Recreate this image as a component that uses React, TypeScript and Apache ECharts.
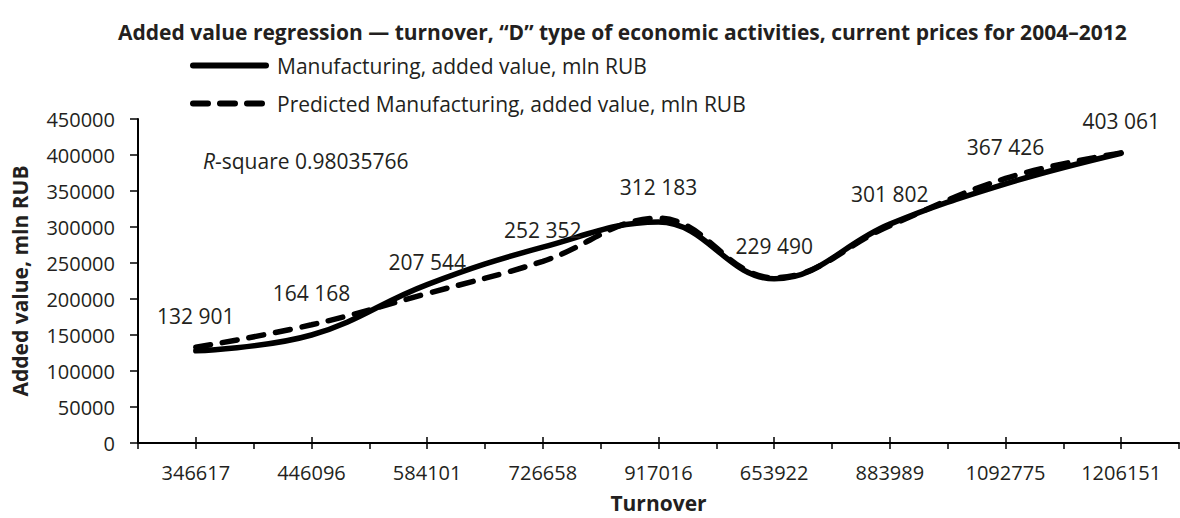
import React, { useEffect, useRef } from "react";
import * as echarts from "echarts";

const titleText =
  "Added value regression \u2014 turnover, \u201cD\u201d type of economic activities, current prices for 2004\u20132012";
const turnover = ["346617", "446096", "584101", "726658", "917016", "653922", "883989", "1092775", "1206151"];
const actualValues = [128000, 150000, 220000, 272000, 307000, 228000, 304000, 360000, 402500];
const predictedValues = [132901, 164168, 207544, 252352, 312183, 229490, 301802, 367426, 403061];
const seriesNames = ["Manufacturing, added value, mln RUB", "Predicted Manufacturing, added value, mln RUB"];
const rSquare = "0.98035766";

const TEXT = "#231f20";
const FONT = "'Open Sans', 'Noto Sans', sans-serif";

function fmt(v: number): string {
  return String(Math.round(v)).replace(/\B(?=(\d{3})+(?!\d))/g, " ");
}

export default function App() {
  const ref = useRef<HTMLDivElement>(null);
  useEffect(() => {
    document.body.style.margin = "0";
    const chart = echarts.init(ref.current!, null, { renderer: "svg" });
    chart.setOption({
      animation: false,
      textStyle: { fontFamily: FONT, color: TEXT },
      title: {
        text: titleText,
        left: 118,
        top: 21,
        padding: 0,
        textStyle: { fontFamily: FONT, fontSize: 21, fontWeight: "bold", color: TEXT },
      },
      legend: {
        orient: "vertical",
        left: 190,
        top: 55,
        padding: 0,
        itemGap: 17,
        itemWidth: 73,
        itemHeight: 22,
        data: seriesNames,
        lineStyle: { width: 6 },
        itemStyle: { color: "rgba(0,0,0,0)", borderWidth: 0 },
        textStyle: { fontFamily: FONT, fontSize: 21, color: TEXT, padding: [0, 0, 0, 6] },
      },
      graphic: [
        {
          type: "text",
          left: 203,
          top: 150,
          style: {
            text: "{i|R}-square " + rSquare,
            fontFamily: FONT,
            fontSize: 21,
            fill: TEXT,
            rich: { i: { fontStyle: "italic", fontFamily: FONT, fontSize: 21, fill: TEXT } },
          },
        },
      ],
      grid: { left: 138, right: 1, top: 119, bottom: 72, containLabel: false },
      xAxis: [
        {
          type: "category",
          data: turnover,
          boundaryGap: true,
          axisLine: { show: true, lineStyle: { color: "#000", width: 2 } },
          axisTick: { show: true, interval: 0, alignWithLabel: false, length: 6, lineStyle: { color: "#000", width: 1.5 } },
          axisLabel: { interval: 0, fontSize: 20, margin: 19, color: TEXT, fontFamily: FONT },
          name: "Turnover",
          nameLocation: "middle",
          nameGap: 49,
          nameTextStyle: { fontFamily: FONT, fontSize: 21, fontWeight: "bold", color: TEXT },
          splitLine: { show: false },
        },
        {
          type: "category",
          data: turnover,
          position: "bottom",
          offset: 6,
          boundaryGap: true,
          axisLine: { show: false },
          axisTick: { show: true, interval: 0, alignWithLabel: true, inside: true, length: 12, lineStyle: { color: "#000", width: 1.5 } },
          axisLabel: { show: false },
          splitLine: { show: false },
        },
      ],
      yAxis: {
        type: "value",
        min: 0,
        max: 450000,
        interval: 50000,
        axisLine: { show: true, lineStyle: { color: "#000", width: 2 } },
        axisTick: { show: true, length: 8, lineStyle: { color: "#000", width: 1.5 } },
        axisLabel: {
          fontSize: 20,
          margin: 23,
          color: TEXT,
          fontFamily: FONT,
          formatter: (v: number) => String(v),
        },
        splitLine: { show: false },
        name: "Added value, mln RUB",
        nameLocation: "middle",
        nameGap: 108,
        nameTextStyle: { fontFamily: FONT, fontSize: 21, fontWeight: "bold", color: TEXT },
      },
      series: [
        {
          name: seriesNames[0],
          type: "line",
          data: actualValues,
          smooth: 0.4,
          symbol: "none",
          lineStyle: { color: "#000", width: 5.5, cap: "round" },
          itemStyle: { color: "#000" },
          z: 3,
        },
        {
          name: seriesNames[1],
          type: "line",
          data: predictedValues,
          smooth: 0.4,
          symbol: "circle",
          symbolSize: 2,
          itemStyle: { color: "rgba(0,0,0,0)" },
          lineStyle: { color: "#000", width: 5.5, type: [15, 12], cap: "round" },
          label: {
            show: true,
            position: "top",
            distance: 20,
            fontSize: 21,
            color: TEXT,
            fontFamily: FONT,
            formatter: (p: any) => fmt(p.value),
          },
          z: 4,
        },
      ],
    });
    return () => chart.dispose();
  }, []);
  return <div ref={ref} style={{ width: 1180, height: 518 }} />;
}
